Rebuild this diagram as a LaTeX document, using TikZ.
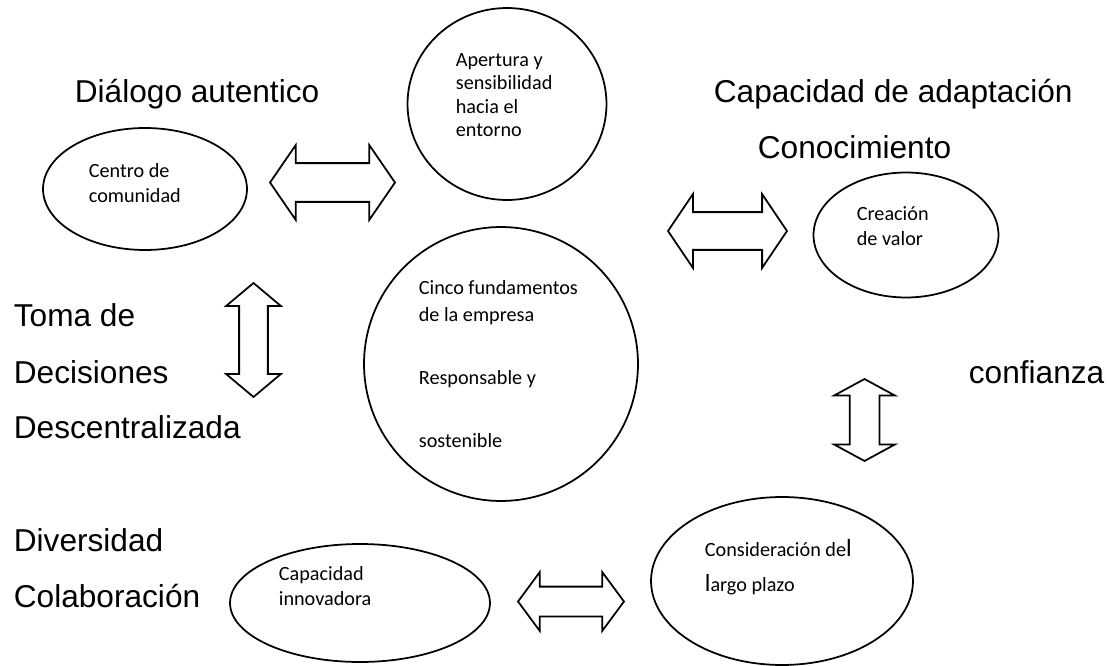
\documentclass[tikz,border=0pt]{standalone}
\usepackage{fontspec}
\setmainfont{Carlito}
\newfontfamily\arialfont{Liberation Sans}
\usepackage{tikz}
\usetikzlibrary{shapes.geometric, shapes.arrows}

\begin{document}
\begin{tikzpicture}[x=0.02cm, y=-0.02cm, line width=1pt,
	bubble/.style={draw, ellipse, inner sep=0pt},
	inside/.style={font=\fontsize{11.5}{14.5}\selectfont, align=left, anchor=west, inner sep=0pt},
	heading/.style={font=\arialfont\fontsize{18}{22}\selectfont, anchor=base west, inner sep=0pt},
	twoway/.style={draw, double arrow, inner xsep=0pt, double arrow head indent=0pt}]
	
	\useasboundingbox (0,0) rectangle (1107,666);
	
	% Define nodes
	\node [bubble, minimum width=4.08cm, minimum height=2.44cm] (centro) at (145,189) {};
	\node [bubble, minimum width=3.98cm, minimum height=3.84cm] (apertura) at (507,104) {};
	\node [bubble, minimum width=3.70cm, minimum height=2.50cm] (creacion) at (906,235) {};
	\node [bubble, minimum width=5.48cm, minimum height=5.48cm] (fundamentos) at (501,364) {};
	\node [bubble, minimum width=5.24cm, minimum height=3.36cm] (consideracion) at (782,581) {};
	\node [bubble, minimum width=5.20cm, minimum height=2.36cm] (innovadora) at (360,603) {};
	
	% Texts inside the bubbles
	\node [inside] (centrotxt) at (88,183) {Centro de\\comunidad};
	\node [inside, font=\fontsize{11.5}{13.4}\selectfont] (aperturatxt) at (455,95) {Apertura y\\sensibilidad\\hacia el\\entorno};
	\node [inside] (creaciontxt) at (856,226) {Creación\\de valor};
	\node [inside, font=\fontsize{11.5}{15.3}\selectfont] (fundamentostxt) at (418,364) {Cinco fundamentos\\de la empresa\\[20.4pt]Responsable y\\[20.4pt]sostenible};
	\node [inside, font=\fontsize{11.5}{19.8}\selectfont] (consideraciontxt) at (704,567) {Consideración de{\fontsize{14}{14}\selectfont l}\\{\fontsize{14}{14}\selectfont l}argo plazo};
	\node [inside] (innovadoratxt) at (278,586) {Capacidad\\innovadora};
	
	% Headings
	\node [heading] (dialogo) at (74,102) {Diálogo autentico};
	\node [heading] (adaptacion) at (713,102) {Capacidad de adaptación};
	\node [heading] (conocimiento) at (757,158) {Conocimiento};
	\node [heading] (toma) at (13,326) {Toma de};
	\node [heading] (decisiones) at (13,383) {Decisiones};
	\node [heading] (descentralizada) at (13,438) {Descentralizada};
	\node [heading] (confianza) at (968,383) {confianza};
	\node [heading] (diversidad) at (13,551) {Diversidad};
	\node [heading] (colaboracion) at (13,607) {Colaboración};
	
	% Double arrows between the bubbles
	\node [twoway, minimum height=2.5cm, minimum width=1.46cm, inner ysep=0.37cm, double arrow head extend=0.36cm, double arrow tip angle=111] (arrowtop) at (332.5,182.5) {};
	\node [twoway, minimum height=2.38cm, minimum width=1.44cm, inner ysep=0.36cm, double arrow head extend=0.36cm, double arrow tip angle=112] (arrowright) at (727.5,231) {};
	\node [twoway, minimum height=2.12cm, minimum width=1.14cm, inner ysep=0.28cm, double arrow head extend=0.29cm, double arrow tip angle=107] (arrowbottom) at (571,601.5) {};
	\node [twoway, rotate=90, minimum height=2.28cm, minimum width=1.06cm, inner ysep=0.27cm, double arrow head extend=0.26cm, double arrow tip angle=100] (arrowleft) at (253.5,340) {};
	\node [twoway, rotate=90, minimum height=1.64cm, minimum width=1.18cm, inner ysep=0.28cm, double arrow head extend=0.31cm, double arrow tip angle=123] (arrowtrust) at (864.5,420) {};
	
\end{tikzpicture}
\end{document}
